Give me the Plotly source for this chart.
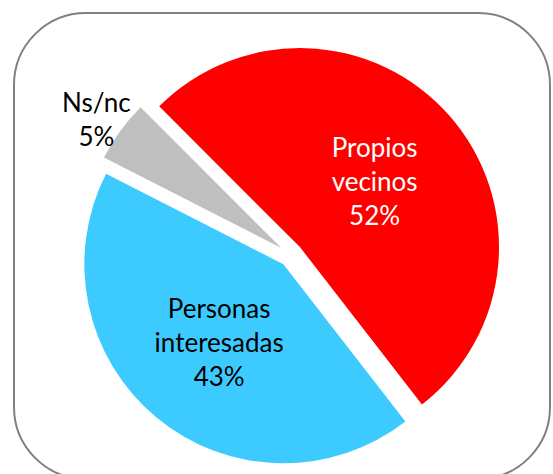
import plotly.graph_objects as go

# data
labels = ["Propios vecinos", "Personas interesadas", "Ns/nc"]
values = [52, 43, 5]
colors = ["#FF0000", "#3DCBFF", "#BFBFBF"]
text_colors = ["white", "black", "black"]
positions = ["inside", "inside", "none"]

W, H = 553, 474
FONT = "Lato"
text = [l.replace(" ", "<br>") for l in labels]
pct = [round(100 * v / sum(values)) for v in values]

fig = go.Figure()
fig.add_trace(go.Pie(
    labels=labels, values=values, text=text,
    texttemplate="%{text}<br>%{percent:.0%}",
    textposition=positions,
    insidetextorientation="horizontal",
    textfont=dict(family=FONT, size=26, color=text_colors),
    marker=dict(colors=colors, line=dict(width=0)),
    pull=[0.06, 0.06, 0.06],
    sort=False, direction="clockwise", rotation=-45,
    domain=dict(x=[80/W, 502/W], y=[(H-466)/H, (H-44)/H]),
    showlegend=False, hoverinfo="label+percent",
))

# small slice label sits outside the pie
fig.add_annotation(x=97/W, y=1 - 119/H, xref="paper", yref="paper",
                   xanchor="center", yanchor="middle",
                   text=f"{labels[2]}<br>{pct[2]}%", showarrow=False,
                   font=dict(family=FONT, size=26, color="black"))

# rounded frame, drawn in pixel units on a hidden axis pair
x0, x1, y0, y1, r = 14, 550, 13, 479, 72
k = r * 0.4477  # control offset for circular arcs
path = (f"M {x0+r},{y0} L {x1-r},{y0} C {x1-k},{y0} {x1},{y0+k} {x1},{y0+r} "
        f"L {x1},{y1-r} C {x1},{y1-k} {x1-k},{y1} {x1-r},{y1} "
        f"L {x0+r},{y1} C {x0+k},{y1} {x0},{y1-k} {x0},{y1-r} "
        f"L {x0},{y0+r} C {x0},{y0+k} {x0+k},{y0} {x0+r},{y0} Z")
fig.add_shape(type="path", path=path, xref="x", yref="y",
              line=dict(color="#808080", width=2), layer="below")

fig.update_xaxes(range=[0, W], visible=False, domain=[0, 1], fixedrange=True)
fig.update_yaxes(range=[H, 0], visible=False, domain=[0, 1], fixedrange=True)
fig.update_layout(width=W, height=H, margin=dict(l=0, r=0, t=0, b=0, pad=0),
                  paper_bgcolor="white", plot_bgcolor="rgba(0,0,0,0)",
                  font=dict(family=FONT))
fig.write_html("out.html", config={"displayModeBar": False},
               post_script="document.body.style.margin='0';"
                           "document.body.style.overflow='hidden';")
